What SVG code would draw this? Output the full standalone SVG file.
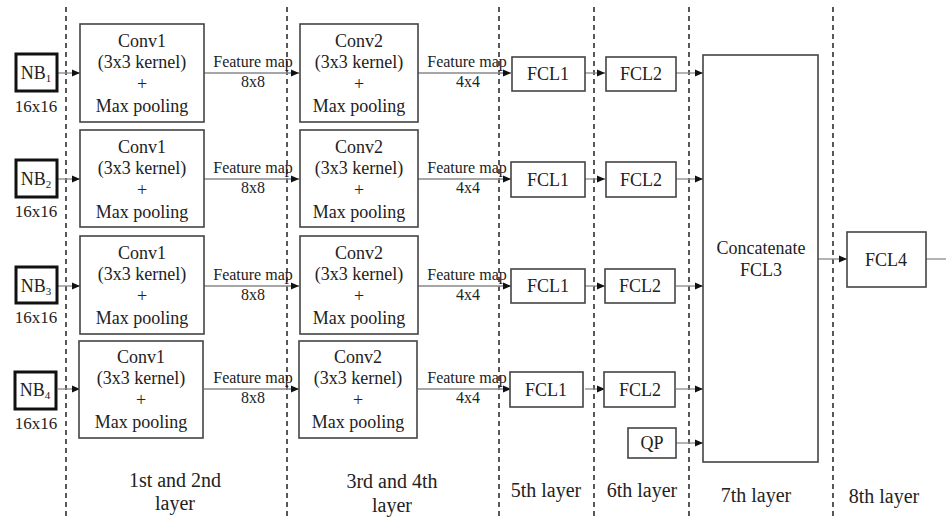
<svg xmlns="http://www.w3.org/2000/svg" width="946" height="517" viewBox="0 0 946 517">
  <style>
    text { font-family: "Liberation Serif", Tinos, "Times New Roman", Times, "Noto Serif", "DejaVu Serif", serif !important; fill: #222; text-anchor: middle; }
    .box { fill: #fff; stroke: #444; stroke-width: 1.6; }
    .nb { fill: #fff; stroke: #111; stroke-width: 3; }
    .lbl { font-size: 18px; }
    .small { font-size: 16px; }
    .layer { font-size: 20px; }
    .sep { stroke: #222; stroke-width: 1.5; stroke-dasharray: 5 4; }
    .wire { stroke: #888; stroke-width: 1.3; fill: none; }
  </style>
  <defs>
    <marker id="arrow" markerUnits="userSpaceOnUse" markerWidth="9" markerHeight="8" refX="8" refY="4" orient="auto">
      <path d="M0,0.5 L8,4 L0,7.5 z" fill="#111"/>
    </marker>
  </defs>

  <rect width="946" height="517" fill="#fff"/>

  <!-- layer separators -->
  <g id="separators">
    <line class="sep" x1="66" y1="7" x2="66" y2="517"/>
    <line class="sep" x1="287" y1="7" x2="287" y2="517"/>
    <line class="sep" x1="499" y1="7" x2="499" y2="517"/>
    <line class="sep" x1="594" y1="7" x2="594" y2="517"/>
    <line class="sep" x1="689" y1="7" x2="689" y2="517"/>
    <line class="sep" x1="833" y1="7" x2="833" y2="517"/>
  </g>

  <!-- connectors -->
  <g id="connectors">
    <!-- row 1 -->
    <line class="wire" x1="58" y1="73" x2="80" y2="73" marker-end="url(#arrow)"/>
    <line class="wire" x1="204" y1="73" x2="299" y2="73" marker-end="url(#arrow)"/>
    <line class="wire" x1="418" y1="73" x2="511" y2="73" marker-end="url(#arrow)"/>
    <line class="wire" x1="585" y1="73" x2="605" y2="73" marker-end="url(#arrow)"/>
    <line class="wire" x1="676" y1="73" x2="703" y2="73" marker-end="url(#arrow)"/>
    <!-- row 2 -->
    <line class="wire" x1="58" y1="179" x2="80" y2="179" marker-end="url(#arrow)"/>
    <line class="wire" x1="204" y1="179" x2="299" y2="179" marker-end="url(#arrow)"/>
    <line class="wire" x1="418" y1="179" x2="511" y2="179" marker-end="url(#arrow)"/>
    <line class="wire" x1="585" y1="179" x2="605" y2="179" marker-end="url(#arrow)"/>
    <line class="wire" x1="676" y1="179" x2="703" y2="179" marker-end="url(#arrow)"/>
    <!-- row 3 -->
    <line class="wire" x1="58" y1="286" x2="80" y2="286" marker-end="url(#arrow)"/>
    <line class="wire" x1="204" y1="286" x2="299" y2="286" marker-end="url(#arrow)"/>
    <line class="wire" x1="418" y1="286" x2="511" y2="286" marker-end="url(#arrow)"/>
    <line class="wire" x1="585" y1="286" x2="605" y2="286" marker-end="url(#arrow)"/>
    <line class="wire" x1="676" y1="286" x2="703" y2="286" marker-end="url(#arrow)"/>
    <!-- row 4 -->
    <line class="wire" x1="58" y1="389" x2="80" y2="389" marker-end="url(#arrow)"/>
    <line class="wire" x1="204" y1="389" x2="299" y2="389" marker-end="url(#arrow)"/>
    <line class="wire" x1="418" y1="389" x2="511" y2="389" marker-end="url(#arrow)"/>
    <line class="wire" x1="585" y1="389" x2="605" y2="389" marker-end="url(#arrow)"/>
    <line class="wire" x1="676" y1="389" x2="703" y2="389" marker-end="url(#arrow)"/>
    <!-- QP, concat, output -->
    <line class="wire" x1="676" y1="443" x2="703" y2="443" marker-end="url(#arrow)"/>
    <line class="wire" x1="818" y1="259" x2="847" y2="259" marker-end="url(#arrow)"/>
    <line class="wire" x1="926" y1="259" x2="946" y2="259"/>
    <!-- feature map labels -->
    <g class="small">
      <text x="253" y="67">Feature map</text><text x="253" y="87">8x8</text>
      <text x="467" y="67">Feature map</text><text x="468" y="87">4x4</text>
      <text x="253" y="173">Feature map</text><text x="253" y="193">8x8</text>
      <text x="467" y="173">Feature map</text><text x="468" y="193">4x4</text>
      <text x="253" y="280">Feature map</text><text x="253" y="300">8x8</text>
      <text x="467" y="280">Feature map</text><text x="468" y="300">4x4</text>
      <text x="253" y="383">Feature map</text><text x="253" y="403">8x8</text>
      <text x="467" y="383">Feature map</text><text x="468" y="403">4x4</text>
    </g>
  </g>

  <!-- input blocks -->
  <g id="nb1">
    <rect class="nb" x="16" y="54" width="41" height="37"/>
    <text class="lbl" x="36" y="79">NB<tspan font-size="11" dy="3">1</tspan></text>
    <text x="36" y="112" font-size="17">16x16</text>
  </g>
  <g id="nb2">
    <rect class="nb" x="16" y="160" width="41" height="37"/>
    <text class="lbl" x="36" y="185">NB<tspan font-size="11" dy="3">2</tspan></text>
    <text x="36" y="217" font-size="17">16x16</text>
  </g>
  <g id="nb3">
    <rect class="nb" x="16" y="267" width="41" height="36"/>
    <text class="lbl" x="36" y="292">NB<tspan font-size="11" dy="3">3</tspan></text>
    <text x="36" y="323" font-size="17">16x16</text>
  </g>
  <g id="nb4">
    <rect class="nb" x="15" y="372" width="41" height="37"/>
    <text class="lbl" x="35" y="396">NB<tspan font-size="11" dy="3">4</tspan></text>
    <text x="36" y="429" font-size="17">16x16</text>
  </g>

  <!-- conv1 blocks -->
  <g id="conv1-1">
    <rect class="box" x="80" y="24" width="124" height="98"/>
    <text class="lbl" x="142" y="47">Conv1</text>
    <text class="lbl" x="142" y="68">(3x3 kernel)</text>
    <text class="lbl" x="142" y="90">+</text>
    <text class="lbl" x="142" y="112">Max pooling</text>
  </g>
  <g id="conv1-2">
    <rect class="box" x="80" y="130" width="124" height="97"/>
    <text class="lbl" x="142" y="153">Conv1</text>
    <text class="lbl" x="142" y="174">(3x3 kernel)</text>
    <text class="lbl" x="142" y="196">+</text>
    <text class="lbl" x="142" y="218">Max pooling</text>
  </g>
  <g id="conv1-3">
    <rect class="box" x="80" y="236" width="124" height="98"/>
    <text class="lbl" x="142" y="259">Conv1</text>
    <text class="lbl" x="142" y="280">(3x3 kernel)</text>
    <text class="lbl" x="142" y="302">+</text>
    <text class="lbl" x="142" y="324">Max pooling</text>
  </g>
  <g id="conv1-4">
    <rect class="box" x="79" y="341" width="124" height="97"/>
    <text class="lbl" x="141" y="363">Conv1</text>
    <text class="lbl" x="141" y="384">(3x3 kernel)</text>
    <text class="lbl" x="141" y="406">+</text>
    <text class="lbl" x="141" y="428">Max pooling</text>
  </g>

  <!-- conv2 blocks -->
  <g id="conv2-1">
    <rect class="box" x="300" y="24" width="118" height="98"/>
    <text class="lbl" x="359" y="47">Conv2</text>
    <text class="lbl" x="359" y="68">(3x3 kernel)</text>
    <text class="lbl" x="359" y="90">+</text>
    <text class="lbl" x="359" y="112">Max pooling</text>
  </g>
  <g id="conv2-2">
    <rect class="box" x="300" y="130" width="118" height="97"/>
    <text class="lbl" x="359" y="153">Conv2</text>
    <text class="lbl" x="359" y="174">(3x3 kernel)</text>
    <text class="lbl" x="359" y="196">+</text>
    <text class="lbl" x="359" y="218">Max pooling</text>
  </g>
  <g id="conv2-3">
    <rect class="box" x="300" y="236" width="118" height="98"/>
    <text class="lbl" x="359" y="259">Conv2</text>
    <text class="lbl" x="359" y="280">(3x3 kernel)</text>
    <text class="lbl" x="359" y="302">+</text>
    <text class="lbl" x="359" y="324">Max pooling</text>
  </g>
  <g id="conv2-4">
    <rect class="box" x="299" y="341" width="118" height="97"/>
    <text class="lbl" x="358" y="363">Conv2</text>
    <text class="lbl" x="358" y="384">(3x3 kernel)</text>
    <text class="lbl" x="358" y="406">+</text>
    <text class="lbl" x="358" y="428">Max pooling</text>
  </g>

  <!-- fully connected layers -->
  <g id="fcl1-1"><rect class="box" x="512" y="57" width="73" height="34"/><text class="lbl" x="548" y="80">FCL1</text></g>
  <g id="fcl1-2"><rect class="box" x="511" y="162" width="74" height="35"/><text class="lbl" x="548" y="186">FCL1</text></g>
  <g id="fcl1-3"><rect class="box" x="511" y="269" width="74" height="34"/><text class="lbl" x="548" y="292">FCL1</text></g>
  <g id="fcl1-4"><rect class="box" x="510" y="372" width="73" height="35"/><text class="lbl" x="546" y="396">FCL1</text></g>

  <g id="fcl2-1"><rect class="box" x="606" y="57" width="70" height="34"/><text class="lbl" x="641" y="80">FCL2</text></g>
  <g id="fcl2-2"><rect class="box" x="606" y="162" width="70" height="35"/><text class="lbl" x="641" y="186">FCL2</text></g>
  <g id="fcl2-3"><rect class="box" x="605" y="269" width="70" height="34"/><text class="lbl" x="640" y="292">FCL2</text></g>
  <g id="fcl2-4"><rect class="box" x="604" y="372" width="71" height="35"/><text class="lbl" x="640" y="396">FCL2</text></g>

  <g id="qp"><rect class="box" x="628" y="428" width="48" height="30"/><text class="lbl" x="652" y="449">QP</text></g>

  <g id="fcl3">
    <rect class="box" x="703" y="55" width="115" height="407"/>
    <text class="lbl" x="761" y="254">Concatenate</text>
    <text class="lbl" x="761" y="276">FCL3</text>
  </g>

  <g id="fcl4"><rect class="box" x="847" y="232" width="79" height="55"/><text class="lbl" x="886" y="266">FCL4</text></g>

  <!-- layer captions -->
  <g id="captions" class="layer">
    <text x="175" y="487">1st and 2nd</text>
    <text x="175" y="510">layer</text>
    <text x="392" y="488">3rd and 4th</text>
    <text x="392" y="512">layer</text>
    <text x="546" y="497">5th layer</text>
    <text x="642" y="497">6th layer</text>
    <text x="756" y="502">7th layer</text>
    <text x="884" y="503">8th layer</text>
  </g>
</svg>
